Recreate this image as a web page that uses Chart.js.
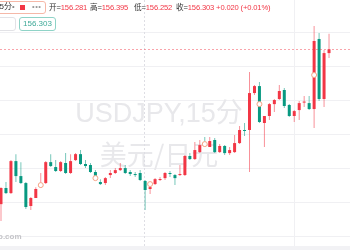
<!DOCTYPE html>
<html>
<head>
<meta charset="utf-8">
<script src="https://cdn.jsdelivr.net/npm/chart.js@4.4.1/dist/chart.umd.min.js"></script>
<style>
  html, body { margin: 0; padding: 0; background: #fff; overflow: hidden; }
  #wrap { position: relative; width: 350px; height: 250px; overflow: hidden; }
  #c { position: absolute; left: 0; top: 0; }
  .t { position: absolute; font: 7.6px "Liberation Sans", "Noto Sans CJK SC", sans-serif; letter-spacing: -0.15px; white-space: nowrap; line-height: 10px; color: #333; }
  .red { color: #f23645; }
  .box { position: absolute; border-radius: 3px; background: #fff; box-sizing: border-box; }
</style>
</head>
<body>
<div id="wrap">
  <canvas id="c" width="350" height="250"></canvas>

  <div class="box" style="left:-12px; top:1px; width:58px; height:13px; border:1px solid #f5b8a8;"></div>
  <div class="t" style="left:-5px; top:2px; font-size:8px; letter-spacing:0;">15分</div>
  <div class="t" style="left:12px; top:2px; color:#888;">•</div>
  <div style="position:absolute; left:20px; top:5px; width:5px; height:5px; background:#f23645;"></div>
  <div class="t" style="left:32px; top:2px; color:#999; letter-spacing:0.5px;">•••</div>

  <div class="t" style="left:49px; top:3px;">开=<span class="red">156.281</span></div>
  <div class="t" style="left:90px; top:3px;">高=<span class="red">156.395</span></div>
  <div class="t" style="left:134px; top:3px;">低=<span class="red">156.252</span></div>
  <div class="t" style="left:176px; top:3px;">收=<span class="red">156.303 +0.020 (+0.01%)</span></div>

  <div class="box" style="left:-6px; top:17px; width:22px; height:14px; border:1px solid #e2e2e6;"></div>
  <div class="box" style="left:19px; top:17px; width:37px; height:14px; border:1px solid #8fd3c7;"></div>
  <div class="t" style="left:19px; top:19px; width:37px; text-align:center; color:#3fa998; font-size:8px; letter-spacing:0;">156.303</div>

  <div class="t" style="left:-2px; top:232px; color:#c4c4c8; font-weight:bold; font-size:8px; letter-spacing:0;">o.com</div>
  <div style="position:absolute; left:0; top:246px; width:350px; height:4px; background:#f2f2f5;"></div>
</div>
<script>
const opens = [155.393,155.488,155.458,155.646,155.558,155.517,155.382,155.429,155.499,155.517,
  155.640,155.611,155.588,155.635,155.576,155.652,155.687,155.629,155.623,155.582,
  155.523,155.517,155.564,155.576,155.593,155.605,155.582,155.570,155.576,155.529,
  155.482,155.511,155.535,155.546,155.576,155.564,155.564,155.564,155.676,155.658,
  155.699,155.752,155.729,155.770,155.699,155.735,155.693,155.699,155.752,155.829,
  155.829,156.046,156.087,155.870,155.911,155.981,156.011,156.064,155.976,155.911,
  155.946,155.990,155.987,155.952,156.364,156.011,156.281];
const highs = [155.493,155.523,155.652,155.687,155.640,155.523,155.435,155.493,155.576,155.646,
  155.687,155.652,155.646,155.693,155.687,155.693,155.711,155.652,155.635,155.593,
  155.540,155.552,155.593,155.605,155.635,155.623,155.593,155.582,155.593,155.535,
  155.511,155.546,155.552,155.582,155.588,155.570,155.623,155.682,155.693,155.758,
  155.770,155.787,155.787,155.782,155.746,155.740,155.729,155.799,155.852,155.870,
  156.170,156.093,156.111,155.911,155.987,156.011,156.093,156.076,155.981,155.946,
  155.999,156.029,156.029,156.440,156.399,156.299,156.395];
const lows = [155.294,155.452,155.452,155.523,155.511,155.364,155.358,155.429,155.488,155.511,
  155.611,155.582,155.582,155.570,155.570,155.646,155.623,155.605,155.576,155.535,
  155.505,155.505,155.546,155.570,155.588,155.570,155.558,155.552,155.529,155.358,
  155.452,155.505,155.529,155.535,155.552,155.505,155.558,155.558,155.652,155.652,
  155.693,155.735,155.729,155.693,155.693,155.682,155.682,155.693,155.746,155.793,
  155.582,156.034,155.870,155.729,155.887,155.934,156.005,155.958,155.905,155.876,
  155.887,155.964,155.946,155.840,155.999,155.964,156.252];
const closes = [155.488,155.458,155.646,155.558,155.517,155.376,155.429,155.482,155.511,155.640,
  155.617,155.588,155.640,155.576,155.646,155.687,155.629,155.617,155.582,155.558,
  155.511,155.546,155.576,155.593,155.605,155.576,155.570,155.564,155.535,155.476,
  155.493,155.540,155.540,155.576,155.570,155.546,155.570,155.676,155.658,155.711,
  155.740,155.740,155.764,155.699,155.735,155.693,155.711,155.752,155.829,155.823,
  156.046,156.087,155.876,155.911,155.981,156.005,156.058,155.970,155.911,155.940,
  155.987,155.996,155.952,156.352,156.011,156.281,156.303];

// circle markers on every 11th bar
const markerIndex = [8, 19, 30, 41, 52, 63];
const markerPrice = [155.505, 155.546, 155.511, 155.746, 155.981, 156.152];

const priceTicks = [155.2, 155.4, 155.6, 155.8, 156.0, 156.2, 156.4];
const lastPrice = 156.303;
const yMin = 155.147, yMax = 156.593;
const xMin = -0.201, xMax = 70.22;

const UP = '#f23645', DOWN = '#089981';
const UP_WICK = 'rgba(242,54,69,0.55)', DOWN_WICK = 'rgba(8,153,129,0.55)';

const isUp = opens.map((o, i) => closes[i] >= o);

const wickData = lows.map((l, i) => ({ x: i, y: [l, highs[i]] }));
const bodyData = opens.map((o, i) => ({ x: i, y: [o, closes[i]] }));
const markerData = markerIndex.map((idx, k) => ({ x: idx, y: markerPrice[k] }));

const decor = {
    id: 'decor',
    beforeDatasetsDraw(chart) {
        const ctx = chart.ctx;
        const xs = chart.scales.x, area = chart.chartArea;
        ctx.save();
        // watermark
        ctx.fillStyle = '#e8e8eb';
        ctx.textAlign = 'center';
        ctx.textBaseline = 'alphabetic';
        ctx.font = '27px "Liberation Sans", "Noto Sans CJK SC", sans-serif';
        ctx.fillText('USDJPY,15分', 159, 122);
        ctx.textBaseline = 'middle';
        ctx.font = '27px "Noto Sans CJK SC", sans-serif';
        ctx.fillText('美元/日元', 159, 155);

        // session separators
        ctx.strokeStyle = '#f0f0f3';
        ctx.lineWidth = 1;
        let x = Math.round(xs.getPixelForValue(59)) + 0.5;
        ctx.beginPath(); ctx.moveTo(x, area.top); ctx.lineTo(x, area.bottom); ctx.stroke();
        ctx.strokeStyle = '#dedee4';
        ctx.setLineDash([2, 2]);
        x = Math.round(xs.getPixelForValue(28.7)) + 0.5;
        ctx.beginPath(); ctx.moveTo(x, area.top); ctx.lineTo(x, area.bottom); ctx.stroke();
        ctx.restore();
    },
    afterDatasetsDraw(chart) {
        const ctx = chart.ctx;
        const y = Math.round(chart.scales.y.getPixelForValue(lastPrice)) + 0.5;
        ctx.save();
        ctx.strokeStyle = 'rgba(242,54,69,0.45)';
        ctx.lineWidth = 1;
        ctx.setLineDash([2, 2]);
        ctx.beginPath(); ctx.moveTo(chart.chartArea.left, y); ctx.lineTo(chart.chartArea.right, y); ctx.stroke();
        ctx.restore();
    }
};

new Chart(document.getElementById('c'), {
    type: 'bar',
    data: {
        datasets: [
            {
                type: 'line',
                data: markerData,
                showLine: false,
                pointRadius: 2.5,
                pointBorderWidth: 1,
                pointBorderColor: '#f5a385',
                pointBackgroundColor: '#fff',
                clip: false,
                order: 0
            },
            {
                data: bodyData,
                backgroundColor: isUp.map(u => u ? UP : DOWN),
                barThickness: 3,
                minBarLength: 1,
                inflateAmount: 0,
                grouped: false,
                order: 1
            },
            {
                data: wickData,
                backgroundColor: isUp.map(u => u ? UP_WICK : DOWN_WICK),
                barThickness: 1,
                inflateAmount: 0,
                grouped: false,
                order: 2
            }
        ]
    },
    options: {
        responsive: false,
        animation: false,
        devicePixelRatio: 1,
        layout: { autoPadding: false, padding: { left: 0, right: 0, top: 0, bottom: 4 } },
        plugins: { legend: { display: false }, tooltip: { enabled: false } },
        scales: {
            x: { type: 'linear', min: xMin, max: xMax, offset: false, display: false, grid: { offset: false } },
            y: {
                min: yMin,
                max: yMax,
                afterBuildTicks: (s) => { s.ticks = priceTicks.map(v => ({ value: v })); },
                afterFit: (s) => { s.width = 0; },
                ticks: { display: false },
                grid: { color: '#f0f0f3', drawTicks: false },
                border: { display: false }
            }
        }
    },
    plugins: [decor]
});
</script>
</body>
</html>
